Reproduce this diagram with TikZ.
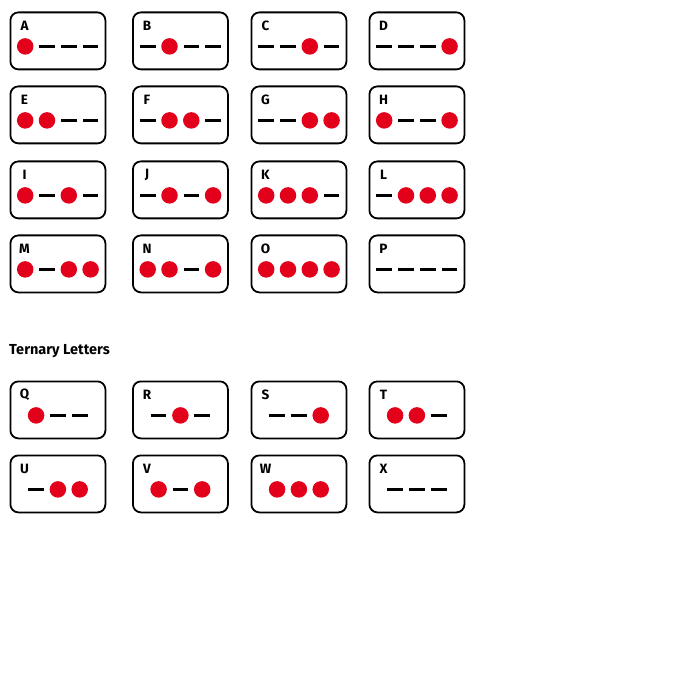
\documentclass[tikz,border=0pt]{standalone}
\usepackage{fontspec}
\setmainfont{Fira Sans}
\definecolor{dotred}{HTML}{E2001A}
\begin{document}
\begin{tikzpicture}[x=1pt,y=-1pt,
  card/.style={draw=black,line width=1.8pt,rounded corners=8pt,minimum width=95pt,minimum height=57pt,inner sep=0pt},
  lbl/.style={font=\fontsize{13.5}{13.5}\selectfont\bfseries,anchor=center,inner sep=0pt},
  dot/.style={fill=dotred,draw=none,circle,minimum size=16.5pt,inner sep=0pt},
  bar/.style={line width=3pt}]
\useasboundingbox (0,0) rectangle (700,700);
% args: name, left, top, letter, nslots, code
\newcommand{\mkcard}[6]{%
  \node[card,anchor=north west] (#1) at (#2,#3) {};
  \node[lbl] (#1l) at ([xshift=15pt,yshift=-14.5pt]#1.north west) {#4};
  \foreach \c [count=\i] in {#6} {%
    \pgfmathsetmacro{\xo}{(\i-(#5+1)/2)*21.8}%
    \ifnum\c=1
      \node[dot] (#1s\i) at ([xshift=\xo pt,yshift=-5.5pt]#1.center) {};
    \else
      \coordinate (#1s\i) at ([xshift=\xo pt,yshift=-5.5pt]#1.center);
      \draw[bar] ([xshift=-7.8pt]#1s\i) -- ([xshift=7.8pt]#1s\i);
    \fi
  }%
}
\mkcard{A}{9.5}{11.5}{A}{4}{1,0,0,0}
\mkcard{B}{132}{11.5}{B}{4}{0,1,0,0}
\mkcard{C}{250.5}{11.5}{C}{4}{0,0,1,0}
\mkcard{D}{368.5}{11.5}{D}{4}{0,0,0,1}
\mkcard{E}{9.5}{85.5}{E}{4}{1,1,0,0}
\mkcard{F}{132}{85.5}{F}{4}{0,1,1,0}
\mkcard{G}{250.5}{85.5}{G}{4}{0,0,1,1}
\mkcard{H}{368.5}{85.5}{H}{4}{1,0,0,1}
\mkcard{I}{9.5}{160.5}{I}{4}{1,0,1,0}
\mkcard{J}{132}{160.5}{J}{4}{0,1,0,1}
\mkcard{K}{250.5}{160.5}{K}{4}{1,1,1,0}
\mkcard{L}{368.5}{160.5}{L}{4}{0,1,1,1}
\mkcard{M}{9.5}{234.5}{M}{4}{1,0,1,1}
\mkcard{N}{132}{234.5}{N}{4}{1,1,0,1}
\mkcard{O}{250.5}{234.5}{O}{4}{1,1,1,1}
\mkcard{P}{368.5}{234.5}{P}{4}{0,0,0,0}
\node[font=\fontsize{14.5}{14.5}\selectfont\bfseries,anchor=west,inner sep=0pt] (tern) at (9,351.5) {Ternary Letters};
\mkcard{Q}{9.5}{380.5}{Q}{3}{1,0,0}
\mkcard{R}{132}{380.5}{R}{3}{0,1,0}
\mkcard{S}{250.5}{380.5}{S}{3}{0,0,1}
\mkcard{T}{368.5}{380.5}{T}{3}{1,1,0}
\mkcard{U}{9.5}{454.5}{U}{3}{0,1,1}
\mkcard{V}{132}{454.5}{V}{3}{1,0,1}
\mkcard{W}{250.5}{454.5}{W}{3}{1,1,1}
\mkcard{X}{368.5}{454.5}{X}{3}{0,0,0}
\end{tikzpicture}
\end{document}
